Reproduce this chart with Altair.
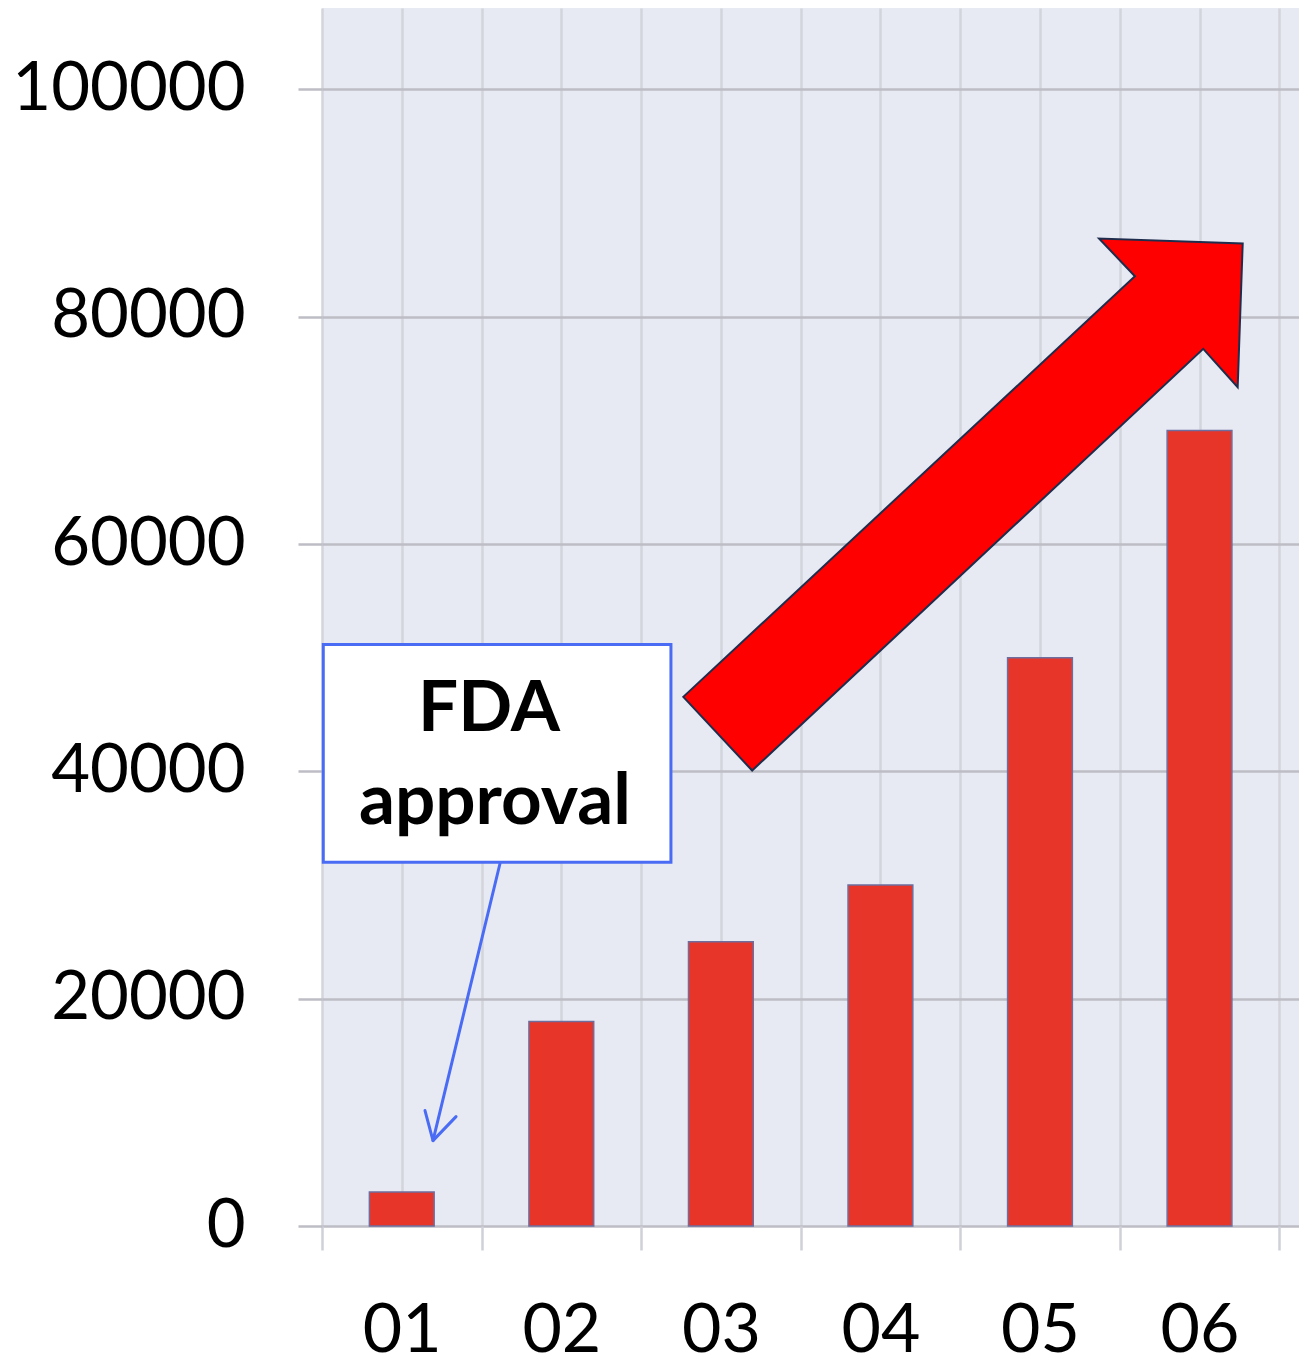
import altair as alt
import pandas as pd

# ---- data ----
categories = ["01", "02", "03", "04", "05", "06"]
values = [3000, 18000, 25000, 30000, 50000, 70000]
y_ticks = [0, 20000, 40000, 60000, 80000, 100000]

# axis extents (x in category-band units, y in value units)
x_domain = [0, 6.1235]
y_domain = [0, 107171]
bar_half = 0.203

# annotation anchors in data units
fda_box_x = [0.008, 2.187]
fda_box_y = [32011, 51166]
fda_text = ["FDA", "approval"]
fda_text_x = [1.047, 1.084]
fda_text_y = [43537, 35328]
pointer_x = [1.1156, 0.6957]
pointer_y = [31896, 7514]
big_arrow_x = [4.0175]
big_arrow_y = [63484]

bars_df = pd.DataFrame({
    "cat": categories,
    "value": values,
    "base": [0] * len(categories),
    "lo": [i + 0.5 - bar_half for i in range(len(categories))],
    "hi": [i + 0.5 + bar_half for i in range(len(categories))],
})

FONT = "Lato"
xs = alt.Scale(domain=x_domain, nice=False, zero=False)
ys = alt.Scale(domain=y_domain, nice=False)

label_list = "[" + ",".join("'" + c + "'" for c in categories) + "]"
x_axis = alt.Axis(
    values=[k * 0.5 for k in range(13)],
    labelExpr=f"datum.value % 1 === 0.5 ? {label_list}[floor(datum.value)] : ''",
    tickSize=24, tickColor="#CFD0D8", tickWidth=2.5,
    tickOpacity={"condition": {"test": "datum.value % 1 === 0", "value": 1}, "value": 0},
    gridColor="#D3D4DC", gridWidth=2.5, domain=False,
    labelFont=FONT, labelFontSize=68, labelColor="black", labelPadding=47,
    labelFlush=False, labelOverlap=False, labelLimit=0, title=None,
)
y_axis = alt.Axis(
    values=y_ticks, format="d",
    tickSize=24, tickColor="#BDBDC5", tickWidth=2.5,
    gridColor="#BDBDC5", gridWidth=2.5, domain=False,
    labelFont=FONT, labelFontSize=67, labelColor="black", labelPadding=53,
    labelFlush=False, labelOverlap=False, labelLimit=0, title=None,
)


def X(field):
    return alt.X(field, scale=xs, axis=x_axis)


def Y(field):
    return alt.Y(field, scale=ys, axis=y_axis)


bars = alt.Chart(bars_df).mark_rect(
    color="#E8352A", stroke="#6E6E9E", strokeWidth=1.5
).encode(
    x=X("lo:Q"), x2="hi:Q",
    y=Y("value:Q"), y2="base:Q",
)

box_df = pd.DataFrame({"x0": [fda_box_x[0]], "x1": [fda_box_x[1]],
                       "y0": [fda_box_y[0]], "y1": [fda_box_y[1]]})
box = alt.Chart(box_df).mark_rect(
    fill="white", stroke="#4A6CF5", strokeWidth=3
).encode(
    x=X("x0:Q"), x2="x1:Q",
    y=Y("y0:Q"), y2="y1:Q",
)

text_df = pd.DataFrame({"t": fda_text, "x": fda_text_x, "y": fda_text_y})
texts = alt.Chart(text_df).mark_text(
    font=FONT, fontSize=71, fontWeight="bold", color="black",
    align="center", baseline="alphabetic"
).encode(
    x=X("x:Q"), y=Y("y:Q"), text="t:N",
)

ptr_df = pd.DataFrame({"x0": [pointer_x[0]], "x1": [pointer_x[1]],
                       "y0": [pointer_y[0]], "y1": [pointer_y[1]]})
pointer = alt.Chart(ptr_df).mark_rule(
    color="#4A6CF5", strokeWidth=3, strokeCap="round"
).encode(
    x=X("x0:Q"), x2="x1:Q",
    y=Y("y0:Q"), y2="y1:Q",
)
head_df = pd.DataFrame({"x": [pointer_x[1]], "y": [pointer_y[1]]})
pointer_head = alt.Chart(head_df).mark_point(
    shape="M-0.25,-0.94L0,0L0.72,-0.75", size=4096, filled=False,
    stroke="#4A6CF5", strokeWidth=3, opacity=1, strokeCap="round", strokeJoin="round"
).encode(
    x=X("x:Q"), y=Y("y:Q"),
)

arrow_df = pd.DataFrame({"x": big_arrow_x, "y": big_arrow_y})
arrow_path = ("M-0.999,0.687L0.614,-0.815L0.486,-0.950L0.999,-0.932"
              "L0.981,-0.419L0.858,-0.556L-0.753,0.950Z")
big_arrow = alt.Chart(arrow_df).mark_point(
    shape=arrow_path, size=313600, filled=True, fill="#FF0000",
    stroke="#1F2D4D", strokeWidth=2, opacity=1, fillOpacity=1, strokeOpacity=1
).encode(
    x=X("x:Q"), y=Y("y:Q"),
)

chart = alt.layer(bars, box, texts, pointer, pointer_head, big_arrow).properties(
    width=977, height=1218,
    padding={"left": 314, "top": 0, "right": 0, "bottom": 130},
    autosize=alt.AutoSizeParams(type="none"),
    background="white",
).configure_view(fill="#E7E9F3", strokeWidth=0)

chart.save("out.html", embed_options={"renderer": "svg", "actions": False})
